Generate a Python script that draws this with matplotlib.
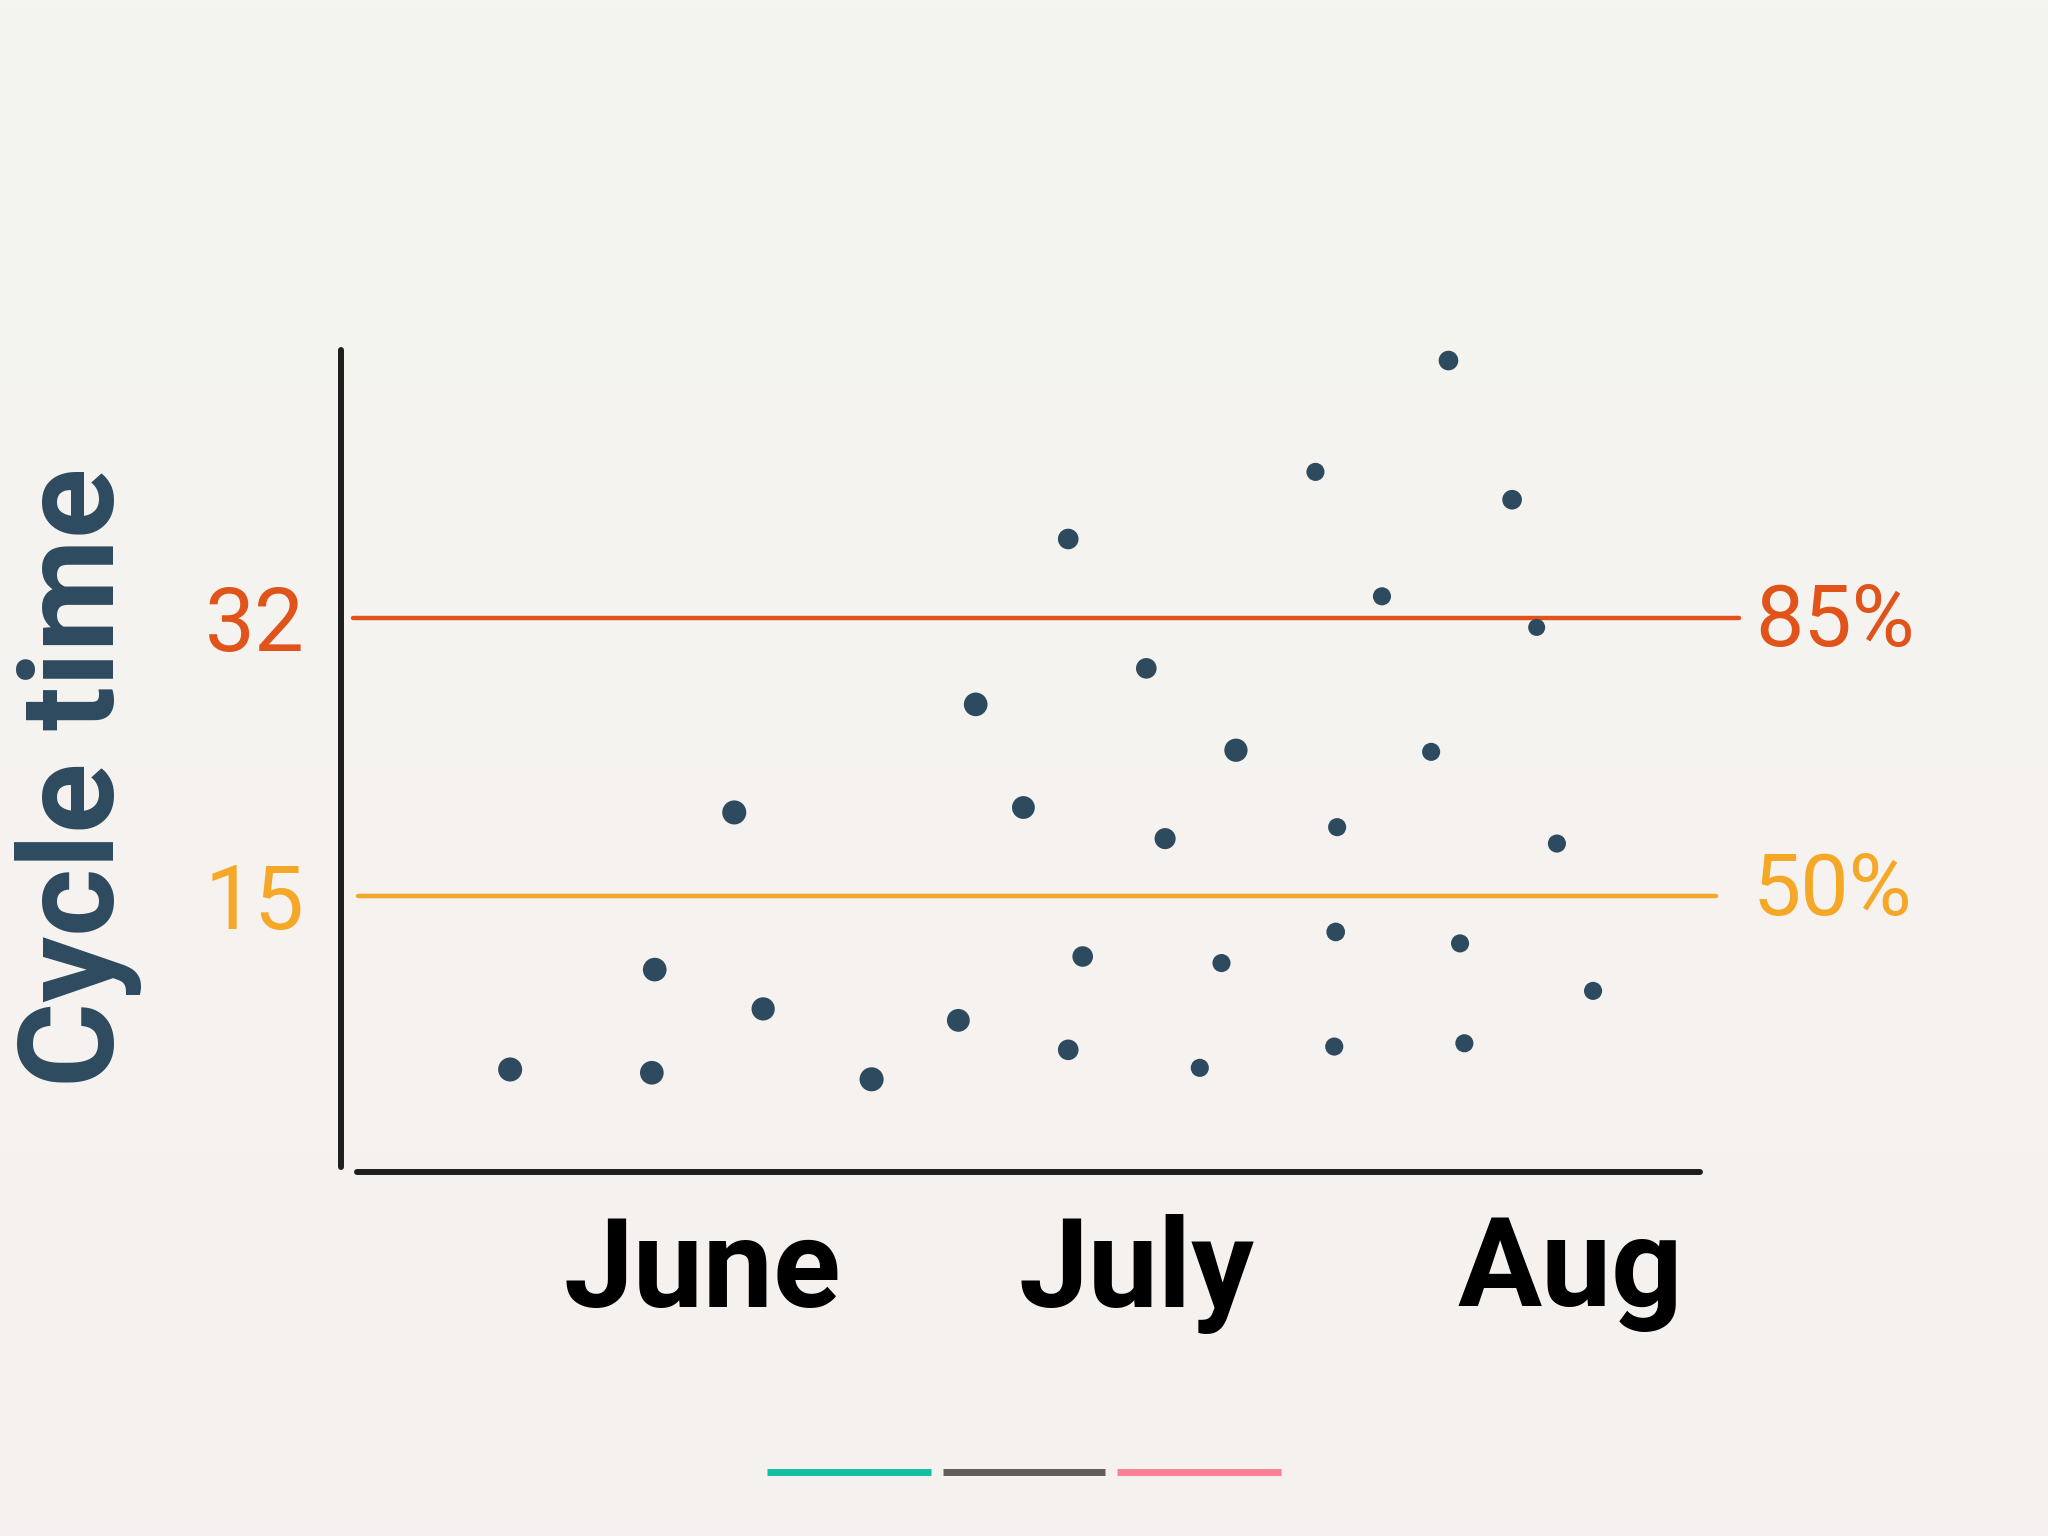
import matplotlib
matplotlib.use('Agg')
import matplotlib.pyplot as plt
import numpy as np
from matplotlib.colors import LinearSegmentedColormap
from matplotlib.lines import Line2D

# day of the period (0 = June 1) and cycle time of each finished item
days = [1.7, 11.5, 11.7, 17.2, 19.2, 26.7, 32.7, 33.9, 37.2, 40.3,
        41.3, 40.3, 45.7, 47.0, 51.9, 50.9, 49.4, 57.4, 58.9, 58.8,
        58.7, 62.0, 65.4, 66.6, 67.4, 67.7, 71.0, 72.7, 74.1, 76.6]
cycle_time = [4.4, 4.2, 10.5, 20.1, 8.1, 3.8, 7.4, 26.7, 20.4, 36.8,
              11.3, 5.6, 28.9, 18.5, 23.9, 10.9, 4.5, 40.9, 19.2, 12.8,
              5.8, 33.3, 23.8, 47.7, 12.1, 6.0, 39.2, 31.4, 18.2, 9.2]

month_ticks = [15, 45, 75]
month_labels = ['June', 'July', 'Aug']

p50 = 15
p85 = 32
percentile_labels = ['50%', '85%']

# hand drawn dots are not all the same size
dot_size = [300, 290, 290, 300, 280, 300, 270, 290, 270, 220,
            220, 220, 220, 230, 280, 170, 170, 170, 170, 180,
            170, 170, 170, 200, 170, 170, 200, 150, 170, 170]

RED = '#E0531B'
YELLOW = '#F5A828'
SLATE = '#2E4A5F'
INK = '#1E1E1E'

fig = plt.figure(figsize=(20.48, 15.36), dpi=100)

# paper background, slightly greenish on top and pinkish at the bottom
bg = fig.add_axes([0, 0, 1, 1], zorder=-10)
cmap = LinearSegmentedColormap.from_list('paper', ['#F4F5EF', '#F6F1F0'])
bg.imshow(np.linspace(0, 1, 256).reshape(-1, 1), cmap=cmap, aspect='auto')
bg.axis('off')

ax = fig.add_axes([0.1665, 0.2370, 0.6636, 0.5352])
ax.set_facecolor('none')
ax.set_xlim(-10, 84)
ax.set_ylim(-1.86, 48.35)

ax.scatter(days, cycle_time, s=dot_size, color=SLATE, linewidths=0,
           zorder=3, clip_on=False)

ax.plot([-9.2, 86.7], [p85, p85], color=RED, lw=3.2, clip_on=False,
        solid_capstyle='round')
ax.plot([-8.85, 85.1], [p50, p50], color=YELLOW, lw=3.2, clip_on=False,
        solid_capstyle='round')

ax.text(87.8, p85 - 0.3, percentile_labels[1], color=RED, fontsize=62,
        family='Roboto', weight='normal', ha='left', va='center')
ax.text(87.6, p50 + 0.3, percentile_labels[0], color=YELLOW, fontsize=62,
        family='Roboto', weight='normal', ha='left', va='center')

for side in ['top', 'right']:
    ax.spines[side].set_visible(False)
ax.spines['left'].set_bounds(-1.56, 48.35)
ax.spines['bottom'].set_bounds(-8.9, 84)
for side in ['left', 'bottom']:
    ax.spines[side].set_linewidth(4.3)
    ax.spines[side].set_color(INK)
    ax.spines[side].set_capstyle('round')

ax.set_yticks([p50, p85], ['15', '32'], family='Roboto', weight='normal',
              fontsize=64)
ax.get_yticklabels()[0].set_color(YELLOW)
ax.get_yticklabels()[1].set_color(RED)
ax.tick_params(axis='y', length=0, pad=26)

ax.set_xticks(month_ticks, month_labels, family='Roboto', weight='bold',
              fontsize=90, color='black')
ax.tick_params(axis='x', length=0, pad=30)

ax.set_ylabel('Cycle time', family='Roboto', weight='bold', fontsize=94,
              color=SLATE, va='center')
ax.yaxis.set_label_coords(-0.1935, 0.4805)

# slide progress bars at the bottom
for x0, x1, c in [(767, 931, '#12BFA0'), (943, 1105, '#625B5B'),
                  (1117, 1281, '#FF8096')]:
    fig.add_artist(Line2D([x0 / 2048, x1 / 2048], [0.0417, 0.0417],
                          color=c, lw=5.0, solid_capstyle='butt'))

plt.savefig('out.png', dpi=100)
